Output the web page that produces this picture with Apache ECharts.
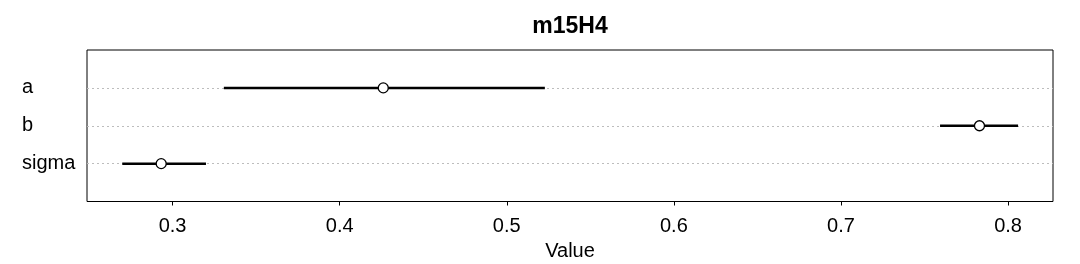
<!DOCTYPE html>
<html><head><meta charset="utf-8">
<script src="https://cdn.jsdelivr.net/npm/echarts@6/dist/echarts.min.js"></script>
<style>html,body{margin:0;padding:0;background:#fff}#c{width:1080px;height:264px}</style>
</head><body><div id="c"></div>
<script>
const params = ['a', 'b', 'sigma'];
const means = [0.4261, 0.7829, 0.2932];
const lower = [0.3307, 0.7593, 0.2699];
const upper = [0.5228, 0.8060, 0.3200];
const xTicks = [0.3, 0.4, 0.5, 0.6, 0.7, 0.8];

const n = params.length;
const rowPos = params.map((p, i) => n - i);
const font = 'Liberation Sans, Arial, sans-serif';

const chart = echarts.init(document.getElementById('c'), null, {renderer: 'canvas'});
chart.setOption({
  animation: false,
  backgroundColor: '#fff',
  graphic: [{
    type: 'text',
    style: {text: 'm15H4', x: 570, y: 27, textAlign: 'center', textVerticalAlign: 'middle',
      font: 'bold 23px ' + font, fill: '#000'}
  }],
  grid: {left: 87, right: 27, top: 50, height: 151.5, outerBoundsMode: 'none', containLabel: false,
    show: true, borderColor: '#000', borderWidth: 1, backgroundColor: 'transparent'},
  xAxis: {
    type: 'value', min: 0.2488, max: 0.8269,
    name: 'Value', nameLocation: 'middle', nameGap: 40,
    nameTextStyle: {fontFamily: font, fontSize: 20, color: '#000'},
    axisLine: {show: false},
    axisTick: {show: true, length: 4, lineStyle: {color: '#000'}, customValues: xTicks},
    axisLabel: {fontFamily: font, fontSize: 20, color: '#000', margin: 15, customValues: xTicks, formatter: v => String(v)},
    splitLine: {show: false}
  },
  yAxis: {
    type: 'value', min: 0, max: n + 1, interval: 1,
    axisLine: {show: false}, axisTick: {show: false},
    axisLabel: {
      fontFamily: font, fontSize: 20, color: '#000', align: 'left', margin: 65,
      padding: [4, 0, 0, 0],
      formatter: v => (v >= 1 && v <= n) ? params[n - v] : ''
    },
    splitLine: {show: false}
  },
  series: [
    {
      type: 'line', data: [], z: 1,
      markLine: {
        z: 1, silent: true, symbol: 'none', label: {show: false},
        lineStyle: {color: '#bdbdbd', type: [2, 3], width: 1, opacity: 1},
        data: rowPos.map(v => ({yAxis: v}))
      }
    },
    {
      type: 'custom',
      data: params.map((p, i) => [lower[i], upper[i], rowPos[i]]),
      renderItem: (ctx, api) => {
        const a = api.coord([api.value(0), api.value(2)]);
        const b = api.coord([api.value(1), api.value(2)]);
        return {type: 'line', shape: {x1: a[0], y1: a[1], x2: b[0], y2: b[1]}, style: {stroke: '#000', lineWidth: 2.5}};
      },
      z: 6
    },
    {
      type: 'scatter',
      data: params.map((p, i) => [means[i], rowPos[i]]),
      symbol: 'circle', symbolSize: 10,
      itemStyle: {color: '#fff', borderColor: '#000', borderWidth: 1.3, opacity: 1},
      z: 7
    }
  ]
});
</script></body></html>
